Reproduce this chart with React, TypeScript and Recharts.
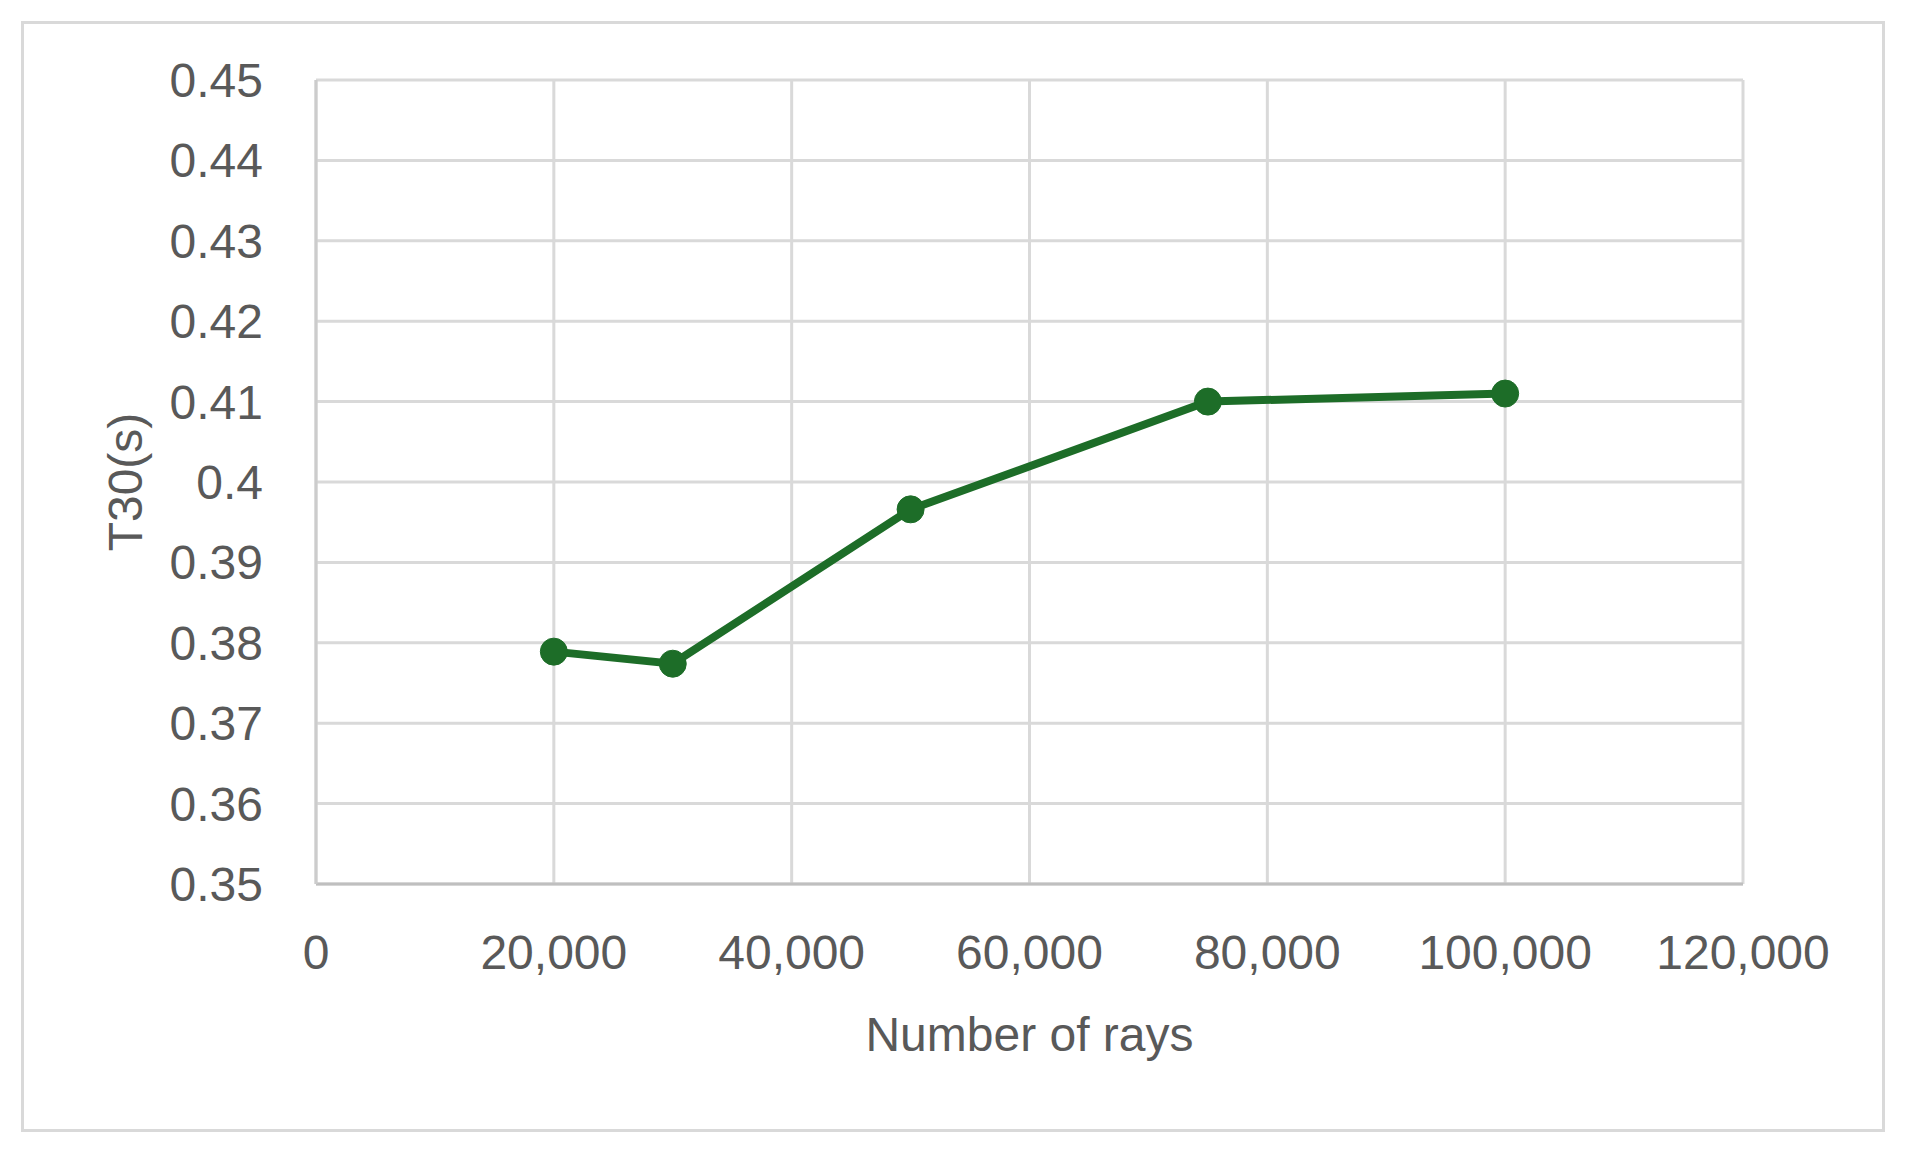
import { LineChart, Line, XAxis, YAxis, CartesianGrid, Label } from 'recharts'

// ── data ────────────────────────────────────────────────────────────────────

const rays = [20000, 30000, 50000, 75000, 100000]
const t30 = [0.3789, 0.3774, 0.3966, 0.41, 0.411]

const xTicks = [0, 20000, 40000, 60000, 80000, 100000, 120000]
const yTicks = [0.35, 0.36, 0.37, 0.38, 0.39, 0.4, 0.41, 0.42, 0.43, 0.44, 0.45]

const data = rays.map((r, i) => ({ rays: r, t30: t30[i] }))

const GREEN = '#1d6d28'
const TEXT = '#595959'
const FONT = '"Liberation Sans", Arial, sans-serif'

function YTitle(props: any) {
  const vb = props.viewBox || {}
  const cx = (vb.x ?? 0) + 125
  const cy = (vb.y ?? 0) + (vb.height ?? 0) / 2
  return (
    <text
      x={cx}
      y={cy}
      transform={`rotate(-90 ${cx} ${cy})`}
      textAnchor="middle"
      dominantBaseline="central"
      fill={TEXT}
      fontSize={48}
      fontFamily={FONT}
    >
      T30(s)
    </text>
  )
}

export default function App() {
  return (
    <div
      style={{
        position: 'absolute',
        left: 0,
        top: 0,
        width: 1906,
        height: 1165,
        background: '#fff',
        fontFamily: FONT,
      }}
    >
      <div
        style={{
          position: 'absolute',
          left: 21,
          top: 21,
          width: 1864,
          height: 1111,
          boxSizing: 'border-box',
          border: '3px solid #d9d9d9',
        }}
      />
      <div style={{ position: 'absolute', left: 0, top: 0 }}>
        <LineChart
          width={1906}
          height={1165}
          data={data}
          margin={{ top: 80, right: 163, left: 0, bottom: 0 }}
        >
          <CartesianGrid stroke="#d9d9d9" strokeWidth={3} />
          <XAxis
            dataKey="rays"
            type="number"
            domain={[0, 120000]}
            ticks={xTicks}
            tickFormatter={(v: number) => v.toLocaleString('en-US')}
            height={281}
            tickLine={false}
            tickSize={0}
            tickMargin={51}
            axisLine={{ stroke: '#bfbfbf', strokeWidth: 3 }}
            tick={{ fill: TEXT, fontSize: 48, fontFamily: FONT }}
            interval={0}
          >
            <Label
              value="Number of rays"
              position="insideBottom"
              offset={114}
              fill={TEXT}
              fontSize={48}
              fontFamily={FONT}
            />
          </XAxis>
          <YAxis
            type="number"
            domain={[0.35, 0.45]}
            ticks={yTicks}
            tickFormatter={(v: number) => String(parseFloat(v.toFixed(2)))}
            width={316}
            tickLine={false}
            tickSize={0}
            tickMargin={53}
            axisLine={{ stroke: '#cccccc', strokeWidth: 3 }}
            tick={{ fill: TEXT, fontSize: 48, fontFamily: FONT }}
            interval={0}
          >
            <Label content={<YTitle />} />
          </YAxis>
          <Line
            dataKey="t30"
            stroke={GREEN}
            strokeWidth={8}
            dot={{ r: 13.5, fill: GREEN, stroke: GREEN, strokeWidth: 1 }}
            activeDot={false}
            isAnimationActive={false}
          />
        </LineChart>
      </div>
    </div>
  )
}
